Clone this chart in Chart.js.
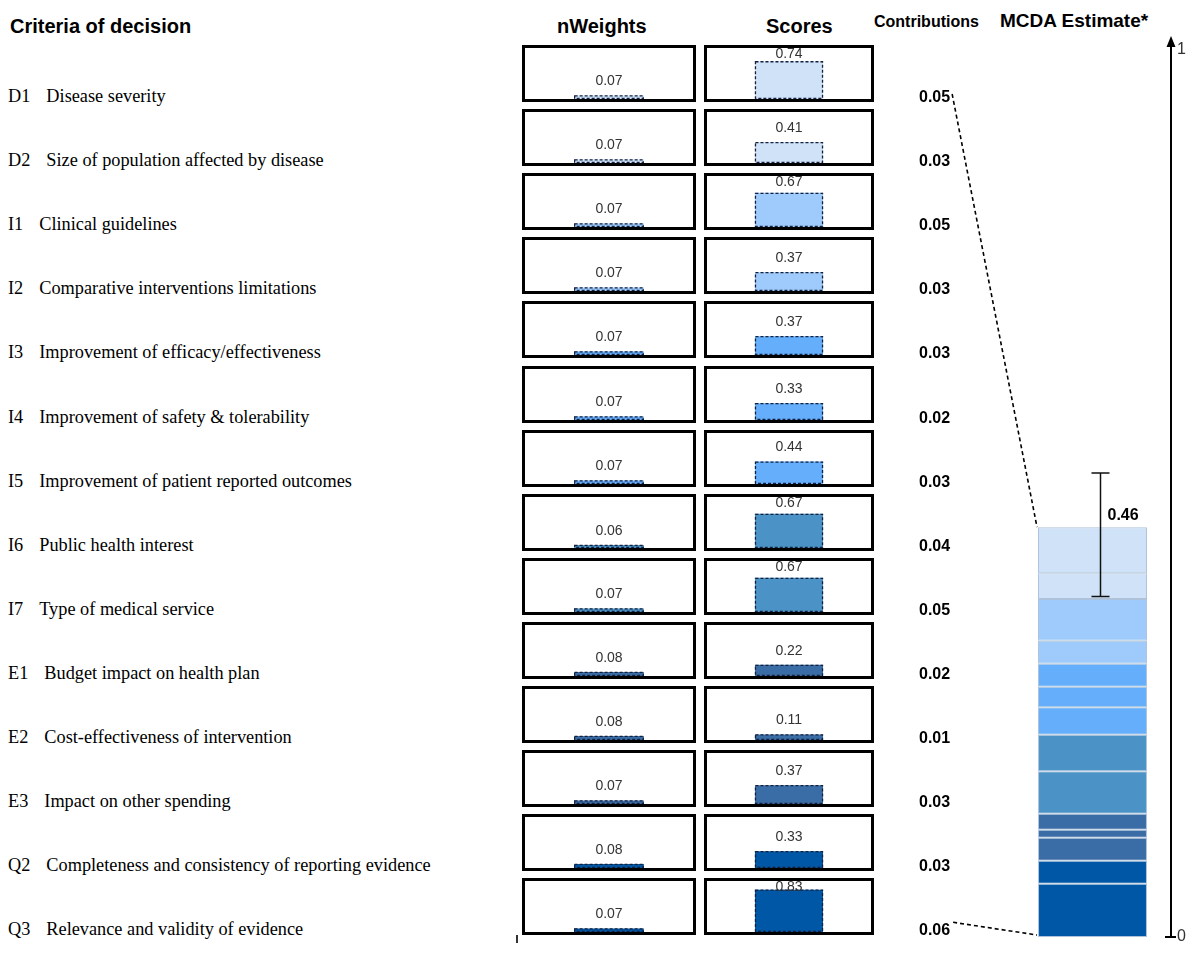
<!DOCTYPE html>
<html>
<head>
<meta charset="utf-8">
<title>MCDA Estimate</title>
<script src="https://cdn.jsdelivr.net/npm/chart.js@4.4.0/dist/chart.umd.min.js"></script>
<style>
    html, body { margin: 0; padding: 0; background: #fff; }
    body { width: 1200px; height: 953px; position: relative; overflow: hidden;
           font-family: "Liberation Sans", Arial, sans-serif; color: #000; }
    .hdr { position: absolute; font-weight: bold; white-space: nowrap; line-height: 1; }
    .crit { position: absolute; left: 8px; font-family: "Liberation Serif", "Times New Roman", serif;
            font-size: 18.3px; line-height: 1; white-space: nowrap; }
    .crit .code { display: inline-block; margin-right: 16px; }
    .box { position: absolute; height: 57px; border: 3px solid #000; box-sizing: border-box; background: #fff; }
    .box canvas { display: block; }
    #stackWrap { position: absolute; left: 880px; top: 0; width: 320px; height: 953px; }
</style>
</head>
<body>

<div class="hdr" style="left:10px;top:16px;font-size:20px;">Criteria of decision</div>
<div class="hdr" style="left:557px;top:16px;font-size:20px;">nWeights</div>
<div class="hdr" style="left:766px;top:16px;font-size:20px;">Scores</div>
<div class="hdr" style="left:874px;top:14px;font-size:16px;">Contributions</div>
<div class="hdr" style="left:1000px;top:11px;font-size:19px;">MCDA Estimate*</div>
<div style="position:absolute;left:516px;top:935px;width:1.5px;height:8px;background:#333;"></div>

<div id="stackWrap"><canvas id="stackChart" width="320" height="953"></canvas></div>

<script>
// ---- data ----
const codes = ['D1', 'D2', 'I1', 'I2', 'I3', 'I4', 'I5', 'I6', 'I7', 'E1', 'E2', 'E3', 'Q2', 'Q3'];
const criteria = [
    'Disease severity',
    'Size of population affected by disease',
    'Clinical guidelines',
    'Comparative interventions limitations',
    'Improvement of efficacy/effectiveness',
    'Improvement of safety & tolerability',
    'Improvement of patient reported outcomes',
    'Public health interest',
    'Type of medical service',
    'Budget impact on health plan',
    'Cost-effectiveness of intervention',
    'Impact on other spending',
    'Completeness and consistency of reporting evidence',
    'Relevance and validity of evidence'
];
const nWeights = [0.07, 0.07, 0.07, 0.07, 0.07, 0.07, 0.07, 0.06, 0.07, 0.08, 0.08, 0.07, 0.08, 0.07];
const scores = [0.74, 0.41, 0.67, 0.37, 0.37, 0.33, 0.44, 0.67, 0.67, 0.22, 0.11, 0.37, 0.33, 0.83];
const contributions = [0.052, 0.029, 0.047, 0.026, 0.026, 0.023, 0.031, 0.041, 0.048, 0.018, 0.009, 0.026, 0.026, 0.060];
const mcdaEstimate = 0.46;
const mcdaRange = [0.384, 0.523];
const axisTicks = [0, 1];

// ---- styling / layout ----
const rowColors = ['#cfe2f7', '#cfe2f7', '#9ecbfb', '#9ecbfb', '#64aefb', '#64aefb', '#64aefb',
                   '#4b93c7', '#4b93c7', '#3a6da6', '#3a6da6', '#3a6da6', '#0057a6', '#0057a6'];
const ROW_TOP = 45;
const ROW_PITCH = 64.1;
const BOX_H = 57;

Chart.defaults.font.family = '"Liberation Sans", Arial, sans-serif';
Chart.defaults.animation = false;

const baselineOf = i => ROW_TOP + BOX_H + i * ROW_PITCH;

// criteria labels
codes.forEach((c, i) => {
    const d = document.createElement('div');
    d.className = 'crit';
    d.style.top = (baselineOf(i) - 15) + 'px';
    d.innerHTML = '<span class="code">' + c + '</span>' + criteria[i].replace(/&/g, '&amp;');
    document.body.appendChild(d);
});

// dashed outline + value label on the small bars
const miniBarPlugin = {
    id: 'miniBar',
    afterDatasetsDraw(chart) {
        const ctx = chart.ctx;
        const meta = chart.getDatasetMeta(0);
        const val = chart.data.datasets[0].data[0];
        meta.data.forEach(bar => {
            const left = bar.x - bar.width / 2;
            ctx.save();
            ctx.setLineDash([3, 2]);
            ctx.strokeStyle = '#14213d';
            ctx.lineWidth = 1.3;
            ctx.strokeRect(left + 0.5, bar.y + 0.5, bar.width - 1, bar.base - bar.y - 1);
            ctx.setLineDash([]);
            ctx.fillStyle = '#333';
            ctx.font = '14px "Liberation Sans", Arial, sans-serif';
            ctx.textAlign = 'center';
            ctx.textBaseline = 'middle';
            ctx.fillText(val.toFixed(2), bar.x, Math.max(bar.y - 14, 6));
            ctx.restore();
        });
    }
};

function miniChart(left, top, width, value, color) {
    const box = document.createElement('div');
    box.className = 'box';
    box.style.left = left + 'px';
    box.style.top = top + 'px';
    box.style.width = width + 'px';
    const cv = document.createElement('canvas');
    cv.width = width - 6;
    cv.height = BOX_H - 6;
    box.appendChild(cv);
    document.body.appendChild(box);
    new Chart(cv, {
        type: 'bar',
        data: {
            labels: [''],
            datasets: [{ data: [value], backgroundColor: color, borderWidth: 0,
                         categoryPercentage: 1, barPercentage: 0.415 }]
        },
        options: {
            responsive: false,
            events: [],
            layout: { padding: 0 },
            plugins: { legend: { display: false }, tooltip: { enabled: false } },
            scales: {
                x: { display: false },
                y: { display: false, min: 0, max: 1 }
            }
        },
        plugins: [miniBarPlugin]
    });
}

codes.forEach((c, i) => {
    const top = Math.round(ROW_TOP + i * ROW_PITCH);
    miniChart(522, top, 174, nWeights[i], rowColors[i]);
    miniChart(704, top, 170, scores[i], rowColors[i]);
});

// contributions, connectors, error bar and arrow on the stacked chart
const mcdaPlugin = {
    id: 'mcdaExtras',
    afterDraw(chart) {
        const ctx = chart.ctx;
        const y = chart.scales.y;
        const area = chart.chartArea;
        const n = chart.data.datasets.length;
        const topBar = chart.getDatasetMeta(n - 1).data[0];
        const barLeft = topBar.x - topBar.width / 2;
        const cx = topBar.x;
        ctx.save();

        // contributions column
        ctx.font = 'bold 16px "Liberation Sans", Arial, sans-serif';
        ctx.fillStyle = '#000';
        ctx.textAlign = 'left';
        ctx.textBaseline = 'alphabetic';
        const textX = 39;
        contributions.forEach((v, i) => {
            ctx.fillText(v.toFixed(2), textX, baselineOf(i));
        });

        // dashed connectors
        ctx.strokeStyle = '#000';
        ctx.lineWidth = 1.6;
        ctx.setLineDash([4, 3]);
        const w0 = ctx.measureText(contributions[0].toFixed(2)).width;
        ctx.beginPath();
        ctx.moveTo(textX + w0 + 2, baselineOf(0) - 8);
        ctx.lineTo(barLeft - 1, topBar.y);
        const last = contributions.length - 1;
        const wl = ctx.measureText(contributions[last].toFixed(2)).width;
        ctx.moveTo(textX + wl + 3, baselineOf(last) - 13);
        ctx.lineTo(barLeft - 1, y.getPixelForValue(0) - 2);
        ctx.stroke();
        ctx.setLineDash([]);

        // error bar
        const ex = cx + 8;
        const yHi = y.getPixelForValue(mcdaRange[1]);
        const yLo = y.getPixelForValue(mcdaRange[0]);
        ctx.strokeStyle = '#111';
        ctx.lineWidth = 1.5;
        ctx.beginPath();
        ctx.moveTo(ex, yHi); ctx.lineTo(ex, yLo);
        ctx.moveTo(ex - 9, yHi); ctx.lineTo(ex + 9, yHi);
        ctx.moveTo(ex - 9, yLo); ctx.lineTo(ex + 9, yLo);
        ctx.stroke();
        ctx.font = 'bold 16px "Liberation Sans", Arial, sans-serif';
        ctx.fillStyle = '#000';
        ctx.fillText(mcdaEstimate.toFixed(2), ex + 7, y.getPixelForValue(mcdaEstimate) - 9);

        // axis arrow and zero tick
        const ax = area.right;
        ctx.strokeStyle = '#000';
        ctx.lineWidth = 2;
        ctx.beginPath();
        ctx.moveTo(ax, area.top); ctx.lineTo(ax, 44);
        ctx.moveTo(ax - 6, area.bottom); ctx.lineTo(ax + 5, area.bottom);
        ctx.stroke();
        ctx.fillStyle = '#000';
        ctx.beginPath();
        ctx.moveTo(ax, 36); ctx.lineTo(ax - 4.5, 47); ctx.lineTo(ax + 4.5, 47);
        ctx.closePath();
        ctx.fill();
        ctx.restore();
    }
};

const stackDatasets = codes.map((c, i) => ({
    label: c,
    data: [contributions[i]],
    backgroundColor: rowColors[i],
    borderColor: '#aec3da',
    borderWidth: 1,
    borderSkipped: false,
    categoryPercentage: 1,
    barPercentage: 0.694
})).reverse();

new Chart(document.getElementById('stackChart'), {
    type: 'bar',
    data: { labels: ['MCDA'], datasets: stackDatasets },
    options: {
        responsive: false,
        events: [],
        layout: { padding: { left: 134, top: 50, bottom: 16, right: 0 } },
        plugins: { legend: { display: false }, tooltip: { enabled: false } },
        scales: {
            x: { display: false, stacked: true },
            y: {
                stacked: true,
                position: 'right',
                min: 0,
                max: 1,
                afterBuildTicks: s => { s.ticks = axisTicks.map(v => ({ value: v })); },
                afterFit: s => { s.width = 29; },
                grid: { display: false, drawTicks: false },
                border: { display: true, color: '#000', width: 2 },
                ticks: { padding: 6, color: '#333', font: { size: 16 } }
            }
        }
    },
    plugins: [mcdaPlugin]
});
</script>
</body>
</html>
